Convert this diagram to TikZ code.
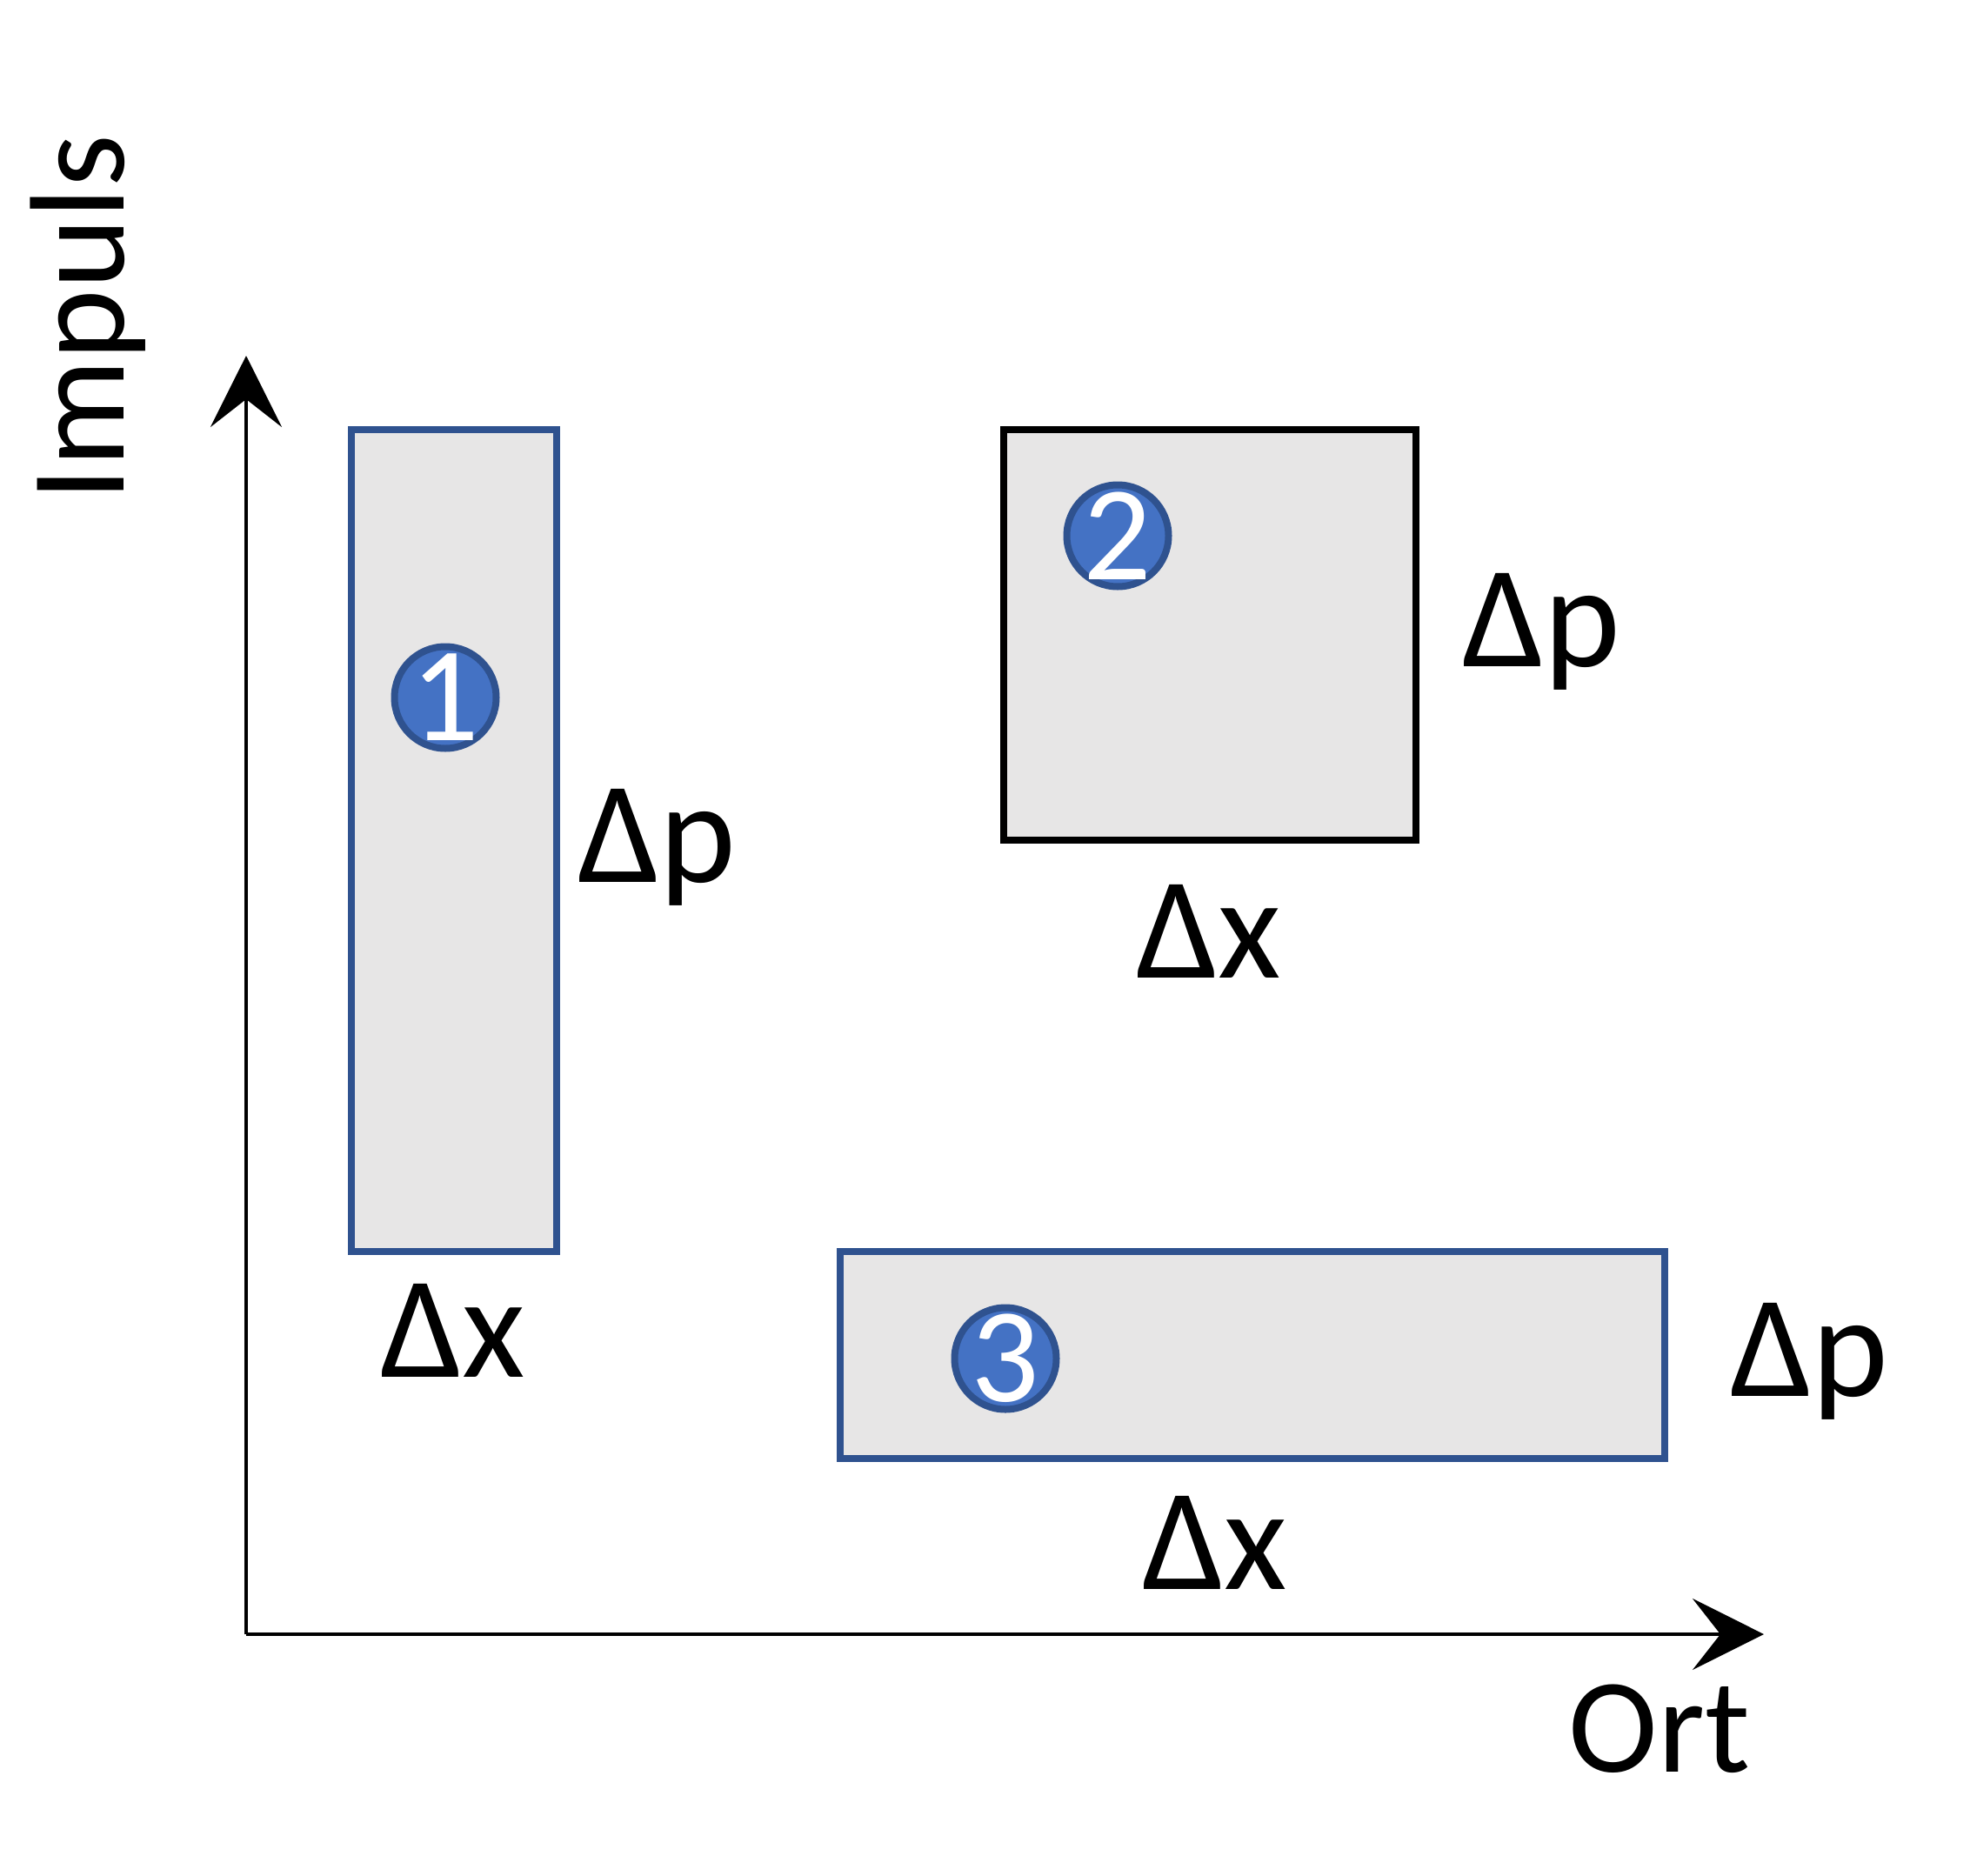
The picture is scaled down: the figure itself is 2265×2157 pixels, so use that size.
\documentclass[tikz,border=0pt]{standalone}
\usepackage{fontspec}
\setmainfont{Carlito}
\usetikzlibrary{arrows.meta}
\definecolor{boxfill}{HTML}{E7E6E6}
\definecolor{boxblue}{HTML}{2F528F}
\definecolor{numfill}{HTML}{4472C4}
\tikzset{
  axis/.style={line width=4pt, -{Stealth[length=82pt, width=82pt, inset=32pt]}},
  bluebox/.style={draw=boxblue, fill=boxfill, line width=8pt},
  blackbox/.style={draw=black, fill=boxfill, line width=8pt},
  numcirc/.style={circle, draw=boxblue, fill=numfill, line width=8pt, minimum size=117pt, inner sep=0pt},
  num/.style={text=white, font=\fontsize{155}{186}\selectfont, inner sep=0pt},
  lab/.style={anchor=base, inner sep=0pt, font=\fontsize{155}{186}\selectfont},
  dlab/.style={lab, font=\fontsize{167}{200}\selectfont},
}
\begin{document}
\begin{tikzpicture}[x=1pt, y=-1pt]
\useasboundingbox (0,0) rectangle (2265,2157);
\coordinate (o) at (283,1879);
\coordinate (ytip) at (283,409);
\coordinate (xtip) at (2028,1879);
\draw[axis] (o) -- (ytip);
\draw[axis] (o) -- (xtip);
\path[bluebox] (404,494) rectangle (640,1439);
\path[blackbox] (1154,494) rectangle (1628,966);
\path[bluebox] (966,1439) rectangle (1914,1677);
\node[numcirc] (c1) at (512,802) {};
\node[num] (n1) at (c1) {1};
\node[numcirc] (c2) at (1285,616) {};
\node[num] (n2) at (c2) {2};
\node[numcirc] (c3) at (1156,1562) {};
\node[num] (n3) at (c3) {3};
\node[dlab] (dp1) at (755,1014) {Δp};
\node[dlab] (dx1) at (521,1583) {Δx};
\node[dlab] (dp2) at (1772,766) {Δp};
\node[dlab] (dx2) at (1390,1124) {Δx};
\node[dlab] (dp3) at (2080,1605) {Δp};
\node[dlab] (dx3) at (1397,1827) {Δx};
\node[lab] (ort) at (1908,2037) {Ort};
\node[lab, rotate=90] (imp) at (142,366) {Impuls};
\end{tikzpicture}
\end{document}
